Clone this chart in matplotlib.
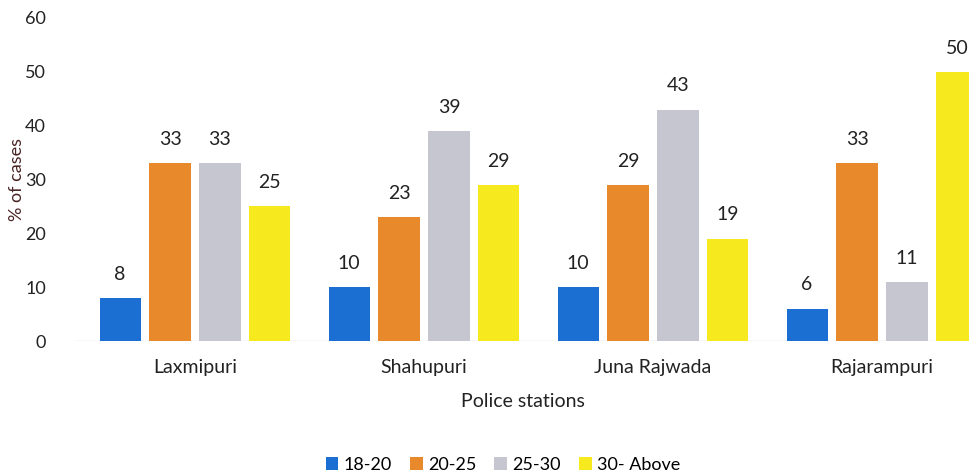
import matplotlib
matplotlib.use("Agg")
import matplotlib.pyplot as plt
import numpy as np

stations = ["Laxmipuri", "Shahupuri", "Juna Rajwada", "Rajarampuri"]
age_groups = ["18-20", "20-25", "25-30", "30- Above"]
v_18_20 = [8, 10, 10, 6]
v_20_25 = [33, 23, 29, 33]
v_25_30 = [33, 39, 43, 11]
v_30_above = [25, 29, 19, 50]
series = [v_18_20, v_20_25, v_25_30, v_30_above]
colors = ["#1b6fd3", "#e8892c", "#c6c6d0", "#f6ea1e"]

plt.rcParams['font.family'] = ['Lato', 'DejaVu Sans']
W, H = 970, 476
fig = plt.figure(figsize=(W/100, H/100), dpi=100)
left = 75 / W
bottom = (H - 341) / H
top = (H - 18) / H
ax = fig.add_axes([left, bottom, 1 - left, top - bottom])

x = np.arange(len(stations))
step = 0.218
width = 0.18
offsets = (np.arange(4) - 1.5) * step
for s, vals, c, off in zip(age_groups, series, colors, offsets):
    bars = ax.bar(x + off, vals, width, color=c, label=s, zorder=2)
    for b, v in zip(bars, vals):
        ax.annotate(str(v), (b.get_x() + b.get_width()/2, v), xytext=(0, 11),
                    textcoords="offset points", ha="center", va="bottom",
                    fontsize=14, color="#222222")

ax.set_xlim((75 - 195) / 229, (970 - 195) / 229)
ax.set_ylim(0, 60)
ax.set_yticks(range(0, 61, 10))
ax.set_xticks(x)
ax.set_xticklabels(stations)
for sp in ax.spines.values():
    sp.set_visible(False)
ax.axhline(0, color="#dddddd", lw=1, zorder=1)
ax.tick_params(axis="both", length=0, colors="#222222")
ax.tick_params(axis="y", pad=21, labelsize=13)
ax.tick_params(axis="x", pad=13, labelsize=14)
ax.set_xlabel("Police stations", fontsize=14, color="#222222", labelpad=12)
ax.set_ylabel("% of cases", fontsize=13, color="#4a2424", labelpad=4)
ax.yaxis.set_label_coords(-50 / (W - 75), 0.5)

fig.legend(loc="center", bbox_to_anchor=(503 / W, 1 - 465 / H), ncol=4,
           frameon=False, fontsize=13, handlelength=0.7, handleheight=0.7,
           handletextpad=0.3, columnspacing=1.0)

fig.savefig("out.png", dpi=100)
